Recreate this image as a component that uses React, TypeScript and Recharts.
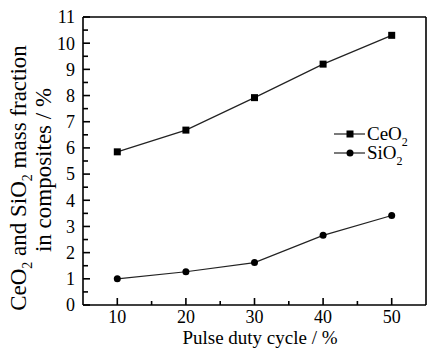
import React from 'react';
import { ComposedChart, Line, Scatter, XAxis, YAxis, Legend, ReferenceLine } from 'recharts';

const dutyCycle = [10, 20, 30, 40, 50];
const ceo2Values = [5.85, 6.68, 7.92, 9.2, 10.3];
const sio2Values = [1.0, 1.27, 1.62, 2.66, 3.42];
const xTicks = [10, 15, 20, 25, 30, 35, 40, 45, 50];
const yTicks = [0, 0.5, 1, 1.5, 2, 2.5, 3, 3.5, 4, 4.5, 5, 5.5, 6, 6.5, 7, 7.5, 8, 8.5, 9, 9.5, 10, 10.5, 11];
const xDomain = [5, 55];
const yDomain = [0, 11];
const seriesNames = ['CeO', 'SiO'];
const seriesSub = ['2', '2'];
const xLabelText = 'Pulse duty cycle / %';
const yLabelLine1 = ['CeO', '2', ' and SiO', '2', ' mass fraction'];
const yLabelLine2 = 'in composites / %';

const data = dutyCycle.map((d, i) => ({ x: d, ceo2: ceo2Values[i], sio2: sio2Values[i] }));
// tick-mark anchor points on the axes (drawn inward through the chart's scales)
const yTickMarks = yTicks.map((v) => ({ x: xDomain[0], y: v, major: Number.isInteger(v) }));
const xTickMarks = xTicks.map((v) => ({ x: v, y: yDomain[0], major: v % 10 === 0 }));

const FONT = '"Liberation Serif", "Times New Roman", serif';

const YLabel = () => (
  <g fontFamily={FONT} fill="#000">
    <text transform="translate(26,178) rotate(-90)" textAnchor="middle" fontSize={23}>
      {yLabelLine1[0]}
      <tspan fontSize={14} dy={6}>{yLabelLine1[1]}</tspan>
      <tspan dy={-6}>{yLabelLine1[2]}</tspan>
      <tspan fontSize={14} dy={6}>{yLabelLine1[3]}</tspan>
      <tspan dy={-6}>{yLabelLine1[4]}</tspan>
    </text>
    <text transform="translate(51,170) rotate(-90)" textAnchor="middle" fontSize={23}>
      {yLabelLine2}
    </text>
  </g>
);

const XLabel = () => (
  <text x={260} y={344} textAnchor="middle" fontSize={19} fontFamily={FONT} fill="#000">
    {xLabelText}
  </text>
);

const SquareDot = (p: any) => {
  if (p.cx == null || p.cy == null) return <g key={p.index} />;
  return <rect key={p.index} x={p.cx - 3.5} y={p.cy - 3.5} width={7} height={7} fill="#000" />;
};

const YTickMark = (p: any) => {
  if (p.cx == null || p.cy == null) return <g />;
  const major = p.payload?.major ?? p.major;
  return <path d={`M${p.cx},${p.cy}h${major ? 7 : 5}`} stroke="#000" strokeWidth={1.6} fill="none" />;
};

const XTickMark = (p: any) => {
  if (p.cx == null || p.cy == null) return <g />;
  const major = p.payload?.major ?? p.major;
  return <path d={`M${p.cx},${p.cy}v${major ? -7 : -4}`} stroke="#000" strokeWidth={1.6} fill="none" />;
};

const LegendContent = () => (
  <svg width={95} height={46} style={{ overflow: 'visible' }}>
    {seriesNames.map((name, i) => {
      const cy = 14 + i * 19;
      return (
        <g key={name}>
          <line x1={6} x2={37} y1={cy} y2={cy} stroke="#222" strokeWidth={1.2} />
          {i === 0 ? (
            <rect x={22 - 3.5} y={cy - 3.5} width={7} height={7} fill="#000" />
          ) : (
            <circle cx={22} cy={cy} r={3.5} fill="#000" />
          )}
          <text x={39} y={cy + 6} fontSize={19} fontFamily={FONT} fill="#000">
            {name}
            <tspan fontSize={12} dy={6}>{seriesSub[i]}</tspan>
          </text>
        </g>
      );
    })}
  </svg>
);

const tickStyle = { fontSize: 18, fontFamily: FONT, fill: '#000' };

export default function App() {
  return (
    <div style={{ position: 'absolute', left: 0, top: 0, width: 428, height: 349, background: '#fff' }}>
      <ComposedChart width={428} height={349} data={data} margin={{ top: 17, right: 2, left: 0, bottom: 0 }}>
        <XAxis
          dataKey="x"
          type="number"
          domain={xDomain}
          ticks={xTicks}
          interval={0}
          tick={tickStyle}
          tickFormatter={(v: number) => (v % 10 === 0 ? String(v) : '')}
          tickLine={false}
          tickSize={0}
          tickMargin={5}
          height={44}
          axisLine={{ stroke: '#000', strokeWidth: 1.6 }}
          label={<XLabel />}
        />
        <YAxis
          type="number"
          domain={yDomain}
          ticks={yTicks}
          interval={0}
          tick={tickStyle}
          tickFormatter={(v: number) => (Number.isInteger(v) ? String(v) : '')}
          tickLine={false}
          tickSize={0}
          tickMargin={8}
          width={83}
          axisLine={{ stroke: '#000', strokeWidth: 1.6 }}
          label={<YLabel />}
        />
        <ReferenceLine y={yDomain[1]} stroke="#000" strokeWidth={1.6} ifOverflow="visible" />
        <ReferenceLine x={xDomain[1]} stroke="#000" strokeWidth={1.6} ifOverflow="visible" />
        <Legend
          layout="vertical"
          align="center"
          verticalAlign="middle"
          content={<LegendContent />}
          wrapperStyle={{ left: 328, top: 120, width: 95, height: 46 }}
        />
        <Scatter
          data={yTickMarks}
          dataKey="y"
          shape={YTickMark}
          legendType="none"
          isAnimationActive={false}
        />
        <Scatter
          data={xTickMarks}
          dataKey="y"
          shape={XTickMark}
          legendType="none"
          isAnimationActive={false}
        />
        <Line
          dataKey="ceo2"
          name="CeO2"
          stroke="#222"
          strokeWidth={1.2}
          dot={SquareDot}
          activeDot={false}
          isAnimationActive={false}
        />
        <Line
          dataKey="sio2"
          name="SiO2"
          stroke="#222"
          strokeWidth={1.2}
          dot={{ r: 3.5, fill: '#000', stroke: '#000', strokeWidth: 0 }}
          activeDot={false}
          isAnimationActive={false}
        />
      </ComposedChart>
    </div>
  );
}
